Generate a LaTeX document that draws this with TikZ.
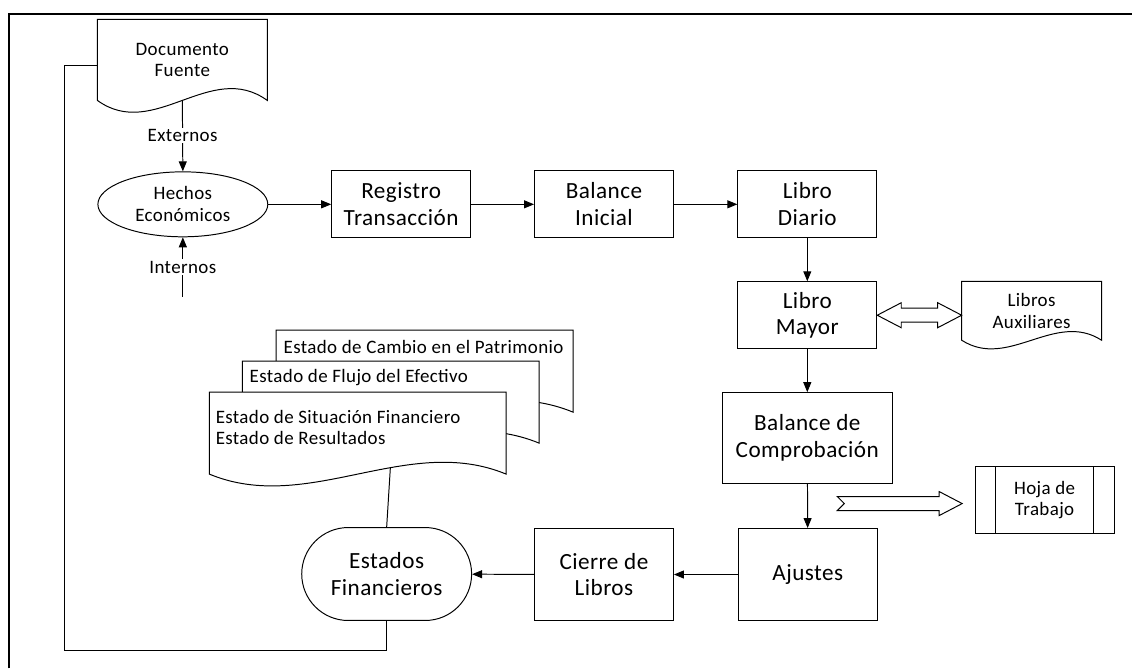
\documentclass[tikz,border=0pt]{standalone}
\usepackage{fontspec}
\setmainfont{Carlito}[LetterSpace=2]
\usetikzlibrary{shapes,arrows.meta,positioning,calc}

% document symbol: outline with a wavy bottom edge
\newcommand{\docoutline}[3][]{%
  \draw[#1] (#2.south west) -- (#2.north west) -- (#2.north east) -- (#2.south east)
    .. controls ($(#2.south east)!0.333!(#2.south west)+(0,-#3)$)
       and ($(#2.south east)!0.667!(#2.south west)+(0,#3)$) .. (#2.south west)
    coordinate[pos=0.39] (#2wave) -- cycle;}

\begin{document}
\begin{tikzpicture}[
    x=0.025cm, y=-0.025cm,
    line width=0.7pt,
    smalltxt/.style={font=\fontsize{13.5}{15.5}\selectfont, align=center},
    bigtxt/.style={font=\fontsize{16.5}{19}\selectfont, align=center},
    process/.style={rectangle, draw, fill=white, minimum width=3.475cm, minimum height=1.675cm, inner sep=0pt, bigtxt},
    bigprocess/.style={process, minimum width=4.25cm, minimum height=2.275cm},
    tallprocess/.style={process, minimum height=2.3cm},
    docbox/.style={rectangle, inner sep=0pt, smalltxt},
    stackdoc/.style={rectangle, inner sep=0pt, minimum width=7.4cm, minimum height=2.025cm},
    stacktxt/.style={font=\fontsize{13.5}{15}\selectfont, align=left, anchor=west, inner sep=0pt},
    arrow/.style={-{Triangle[length=0.25cm,width=0.2cm]}},
    blockarrow/.style={draw, fill=white, line join=miter}
]

% outer frame
\draw[line width=1.4pt] (9,669) -- (9,14) -- (1133,14);

% source document and economic facts
\node[docbox, minimum width=4.225cm, minimum height=2cm] (fuente) at (182.5,60) {Documento\\Fuente};
\docoutline{fuente}{41}
\node[ellipse, draw, inner sep=0pt, minimum width=4.25cm, minimum height=1.625cm, smalltxt] (hechos) at (183,204.5) {Hechos\\Económicos};
\coordinate (internos) at (183,297);

\draw[arrow] (fuente.south) -- node[fill=white, smalltxt, inner sep=1pt] {Externos} (hechos.north);
\draw[arrow] (internos) -- node[fill=white, smalltxt, inner sep=1pt] {Internos} (hechos.south);

% main flow
\node[process] (registro) at (401.5,204.5) {Registro\\Transacción};
\node[process] (inicial) at (604.5,204.5) {Balance\\Inicial};
\node[process] (diario) at (808,204.5) {Libro\\Diario};
\node[process] (mayor) at (808,315.5) {Libro\\Mayor};
\node[bigprocess] (comprobacion) at (808,438.5) {Balance de\\Comprobación};
\node[tallprocess] (ajustes) at (808.5,575) {Ajustes};
\node[tallprocess] (cierre) at (604.5,575) {Cierre de\\Libros};
\node[rounded rectangle, draw, inner sep=0pt, minimum width=4.25cm, minimum height=2.325cm, bigtxt] (finan) at (387,574.5) {Estados\\Financieros};

\draw[arrow] (hechos) -- (registro);
\draw[arrow] (registro) -- (inicial);
\draw[arrow] (inicial) -- (diario);
\draw[arrow] (diario) -- (mayor);
\draw[arrow] (mayor) -- (comprobacion);
\draw[arrow] (comprobacion) -- (ajustes);
\draw[arrow] (ajustes) -- (cierre);
\draw[arrow] (cierre) -- (finan);

% auxiliary books
\node[docbox, minimum width=3.475cm, minimum height=1.45cm] (auxiliares) at (1032.5,311) {Libros\\Auxiliares};
\docoutline{auxiliares}{30}
\draw[blockarrow] (mayor.east) -- ++(24,-12.5) -- ++(0,5.5)
    -- ($(mayor.east -| auxiliares.west)+(-24,-7)$) -- ++(0,-5.5) -- (mayor.east -| auxiliares.west)
    -- ++(-24,12.5) -- ++(0,-5.5) -- ($(mayor.east)+(24,7)$) -- ++(0,5.5) -- cycle;

% worksheet
\node[process, smalltxt] (hoja) at (1045.5,500.5) {Hoja de\\Trabajo};
\draw ([xshift=0.525cm]hoja.north west) -- ([xshift=0.525cm]hoja.south west);
\draw ([xshift=-0.525cm]hoja.north east) -- ([xshift=-0.525cm]hoja.south east);
\coordinate (notchtail) at (838,504);
\coordinate (notchtip) at (963,504);
\draw[blockarrow] ($(notchtail)+(0,-7)$) -- ($(notchtip)+(-23,-7)$) -- ++(0,-5) -- (notchtip)
    -- ($(notchtip)+(-23,12)$) -- ++(0,-5) -- ($(notchtail)+(0,7)$) -- ($(notchtail)+(7,0)$) -- cycle;

% stack of financial statements
\node[stackdoc] (patrimonio) at (425,371.5) {};
\docoutline[fill=white]{patrimonio}{41}
\node[stacktxt] (patrimoniotxt) at ($(patrimonio.north west)+(7,17)$) {Estado de Cambio en el Patrimonio};
\node[stackdoc] (flujo) at (391,402.5) {};
\docoutline[fill=white]{flujo}{41}
\node[stacktxt] (flujotxt) at ($(flujo.north west)+(7,16)$) {Estado de Flujo del Efectivo};
\node[stackdoc] (situacion) at (358,433.5) {};
\docoutline[fill=white]{situacion}{41}
\node[stacktxt] (situaciontxt) at ($(situacion.north west)+(6,35)$) {Estado de Situación Financiero\\Estado de Resultados};
\draw (finan.north) -- (situacionwave);

% feedback loop
\coordinate (loopcorner) at (65,651);
\draw ([yshift=-0.15cm]fuente.west) -| (loopcorner) -| (finan.south);

\useasboundingbox (0,0) rectangle (1133,669);
\end{tikzpicture}
\end{document}
